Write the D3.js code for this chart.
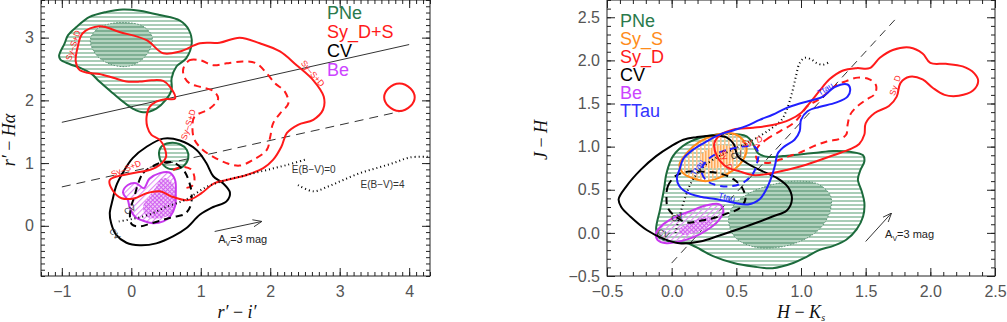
<!DOCTYPE html>
<html>
<head>
<meta charset="utf-8">
<script src="https://cdn.jsdelivr.net/npm/d3@7"></script>
<style>
  body { margin: 0; background: #fff; }
  svg { display: block; font-family: "Liberation Sans", Arial, sans-serif; }
</style>
</head>
<body>
<script>
// ---------- left panel (r'-i' , r'-Halpha) ----------
const leftXTicks = [-1, 0, 1, 2, 3, 4];
const leftYTicks = [0, 1, 2, 3];

const leftPNe = [[-1.04,2.71],[-0.96,2.91],[-0.91,3.04],[-0.79,3.17],[-0.60,3.33],[-0.36,3.41],[-0.12,3.45],[0.12,3.43],[0.41,3.36],[0.70,3.27],[0.83,3.12],[0.87,2.91],[0.79,2.67],[0.65,2.54],[0.58,2.35],[0.58,2.17],[0.50,2.01],[0.36,1.87],[0.17,1.81],[0.02,1.87],[-0.12,1.98],[-0.26,2.11],[-0.46,2.30],[-0.58,2.43],[-0.72,2.51],[-0.89,2.58],[-1.02,2.65]];
const leftPNeCore = [[-0.59,2.96],[-0.50,3.13],[-0.31,3.22],[-0.07,3.24],[0.17,3.18],[0.30,3.01],[0.26,2.80],[0.12,2.62],[-0.07,2.54],[-0.31,2.58],[-0.50,2.72]];
const leftPNeSmall = [[0.40,1.13],[0.43,1.26],[0.55,1.32],[0.70,1.30],[0.80,1.21],[0.82,1.08],[0.75,0.95],[0.60,0.90],[0.47,0.96]];

const leftSy = [[-0.70,3.07],[-0.46,3.18],[-0.17,3.09],[0.22,2.96],[0.46,2.75],[0.70,2.78],[0.99,2.91],[1.27,2.92],[1.56,3.00],[1.85,2.91],[2.14,2.78],[2.38,2.56],[2.62,2.32],[2.77,2.06],[2.76,1.85],[2.62,1.69],[2.40,1.61],[2.24,1.48],[2.16,1.26],[2.04,1.05],[1.90,0.92],[1.66,0.81],[1.37,0.73],[1.18,0.67],[1.01,0.52],[0.82,0.41],[0.60,0.46],[0.41,0.55],[0.22,0.52],[0.05,0.44],[-0.14,0.44],[-0.26,0.55],[-0.31,0.73],[-0.02,0.83],[0.26,0.89],[0.41,0.97],[0.50,1.10],[0.48,1.24],[0.41,1.37],[0.29,1.45],[0.23,1.58],[0.22,1.74],[0.26,1.89],[0.36,1.98],[0.50,2.02],[0.63,2.03],[0.56,2.21],[0.46,2.31],[0.29,2.32],[0.12,2.30],[-0.07,2.30],[-0.26,2.36],[-0.46,2.42],[-0.63,2.44],[-0.75,2.49],[-0.80,2.62],[-0.77,2.86]];
const leftSyBlob = [[3.64,2.05],[3.70,2.19],[3.86,2.27],[4.02,2.19],[4.08,2.05],[4.02,1.91],[3.86,1.83],[3.70,1.91]];
const leftSyDash = [[0.75,2.51],[0.84,2.64],[0.99,2.64],[1.18,2.56],[1.37,2.59],[1.61,2.62],[1.80,2.59],[1.95,2.43],[2.07,2.27],[2.21,2.14],[2.26,1.95],[2.14,1.79],[2.04,1.63],[2.00,1.42],[1.95,1.21],[1.75,1.05],[1.56,0.96],[1.37,1.00],[1.18,1.10],[1.03,1.21],[0.91,1.37],[0.88,1.56],[0.91,1.74],[1.13,1.87],[1.25,2.03],[1.18,2.15],[1.01,2.21],[0.84,2.27],[0.76,2.38]];
const leftSyDashArc = [[0.60,0.89],[0.75,0.94],[0.87,0.89],[0.91,0.73],[0.87,0.63],[0.75,0.60]];

const leftCV = [[-0.31,0.20],[-0.27,0.41],[-0.22,0.63],[-0.11,0.87],[0.02,1.08],[0.22,1.26],[0.46,1.39],[0.70,1.36],[0.94,1.21],[1.08,1.00],[1.18,0.79],[1.32,0.68],[1.42,0.53],[1.37,0.39],[1.18,0.30],[0.99,0.18],[0.79,-0.04],[0.60,-0.17],[0.36,-0.28],[0.12,-0.31],[-0.07,-0.27],[-0.22,-0.14],[-0.29,0.04]];
const leftCVDash = [[0.10,0.68],[0.17,0.84],[0.29,0.94],[0.41,1.00],[0.60,1.01],[0.75,0.89],[0.83,0.71],[0.87,0.49],[0.85,0.31],[0.77,0.19],[0.60,0.14],[0.41,0.08],[0.26,0.03],[0.12,-0.01],[0.01,0.02],[-0.02,0.15],[0.00,0.31],[0.05,0.49]];

const leftBe = [[-0.12,0.53],[-0.05,0.65],[0.07,0.68],[0.18,0.60],[0.26,0.75],[0.41,0.84],[0.55,0.85],[0.63,0.73],[0.64,0.52],[0.63,0.31],[0.56,0.15],[0.46,0.07],[0.31,0.04],[0.17,0.08],[0.05,0.15],[-0.02,0.28],[-0.05,0.41]];
const leftBeCore = [[0.41,0.73],[0.50,0.76],[0.60,0.68],[0.63,0.41],[0.58,0.20],[0.41,0.12],[0.22,0.15],[0.17,0.31],[0.26,0.47],[0.36,0.63]];

const leftEbv0 = [[-0.18,0.07],[0.02,0.11],[0.26,0.18],[0.50,0.30],[0.79,0.42],[1.08,0.62],[1.37,0.73],[1.66,0.81],[1.95,0.89],[2.24,0.97],[2.52,1.06]];
const leftEbv4 = [[2.40,0.65],[2.62,0.55],[2.84,0.63],[3.05,0.73],[3.29,0.84],[3.53,0.92],[3.77,1.00],[4.01,1.09],[4.30,1.10]];
const leftLineSolid = [[-1, 1.65], [4, 2.89]];
const leftLineDash = [[-1, 0.62], [3.9, 1.83]];
const leftAv = [[1.20, -0.09], [1.88, 0.07]];

// ---------- right panel (H-Ks , J-H) ----------
const rightXTicks = [-0.5, 0, 0.5, 1, 1.5, 2, 2.5];
const rightYTicks = [-0.5, 0, 0.5, 1, 1.5, 2, 2.5];

const rightPNe = [[-0.12,0.04],[-0.09,0.27],[-0.06,0.50],[-0.04,0.69],[0.01,0.89],[0.12,1.04],[0.27,1.12],[0.42,1.15],[0.58,1.12],[0.63,1.03],[0.67,0.92],[0.75,0.88],[0.86,0.89],[0.99,0.91],[1.12,0.93],[1.25,0.95],[1.38,0.94],[1.48,0.90],[1.49,0.83],[1.46,0.73],[1.44,0.62],[1.47,0.48],[1.49,0.35],[1.48,0.19],[1.43,0.04],[1.35,-0.08],[1.25,-0.15],[1.14,-0.20],[1.04,-0.28],[0.94,-0.35],[0.78,-0.41],[0.63,-0.39],[0.48,-0.35],[0.32,-0.27],[0.22,-0.19],[0.12,-0.12],[-0.01,-0.10],[-0.10,-0.05]];
const rightPNeCore = [[0.44,0.15],[0.48,0.32],[0.60,0.46],[0.78,0.56],[0.99,0.60],[1.14,0.56],[1.23,0.42],[1.22,0.23],[1.14,0.04],[0.99,-0.10],[0.81,-0.17],[0.63,-0.16],[0.49,-0.05]];

const rightSyD = [[0.33,1.04],[0.38,1.14],[0.48,1.20],[0.63,1.22],[0.78,1.25],[0.91,1.31],[1.00,1.39],[1.07,1.51],[1.14,1.64],[1.22,1.78],[1.32,1.88],[1.43,1.91],[1.53,1.91],[1.61,2.03],[1.71,2.12],[1.84,2.15],[1.94,2.08],[2.00,1.97],[2.12,1.96],[2.25,1.93],[2.34,1.85],[2.37,1.76],[2.33,1.65],[2.22,1.59],[2.11,1.60],[2.02,1.68],[1.94,1.78],[1.84,1.81],[1.77,1.74],[1.74,1.58],[1.68,1.47],[1.57,1.39],[1.50,1.27],[1.49,1.14],[1.45,1.03],[1.38,0.97],[1.25,0.90],[1.04,0.79],[0.89,0.73],[0.73,0.68],[0.63,0.67],[0.53,0.71],[0.42,0.77],[0.35,0.89]];
const rightSyDDash = [[0.66,0.98],[0.73,1.08],[0.84,1.18],[0.94,1.27],[1.00,1.37],[1.05,1.47],[1.13,1.54],[1.21,1.63],[1.27,1.71],[1.35,1.76],[1.44,1.80],[1.53,1.78],[1.58,1.71],[1.57,1.61],[1.50,1.54],[1.43,1.46],[1.38,1.37],[1.36,1.25],[1.35,1.14],[1.30,1.09],[1.20,1.06],[1.09,1.00],[0.99,0.93],[0.91,0.89],[0.84,0.85],[0.73,0.81],[0.66,0.85]];
const rightSyS = [[0.06,0.79],[0.12,0.93],[0.22,1.06],[0.35,1.14],[0.48,1.15],[0.55,1.08],[0.58,0.97],[0.55,0.84],[0.48,0.73],[0.37,0.64],[0.27,0.60],[0.17,0.63],[0.09,0.69]];
const rightSySCore = [[0.22,0.89],[0.30,0.98],[0.40,1.02],[0.48,0.97],[0.48,0.85],[0.40,0.77],[0.30,0.75],[0.23,0.79]];

const rightTTau = [[0.06,0.73],[0.09,0.86],[0.17,0.97],[0.27,1.06],[0.37,1.14],[0.48,1.19],[0.58,1.24],[0.68,1.31],[0.78,1.37],[0.89,1.45],[0.99,1.50],[1.09,1.54],[1.17,1.58],[1.26,1.69],[1.36,1.72],[1.38,1.67],[1.36,1.58],[1.27,1.51],[1.14,1.46],[1.05,1.41],[1.00,1.31],[0.99,1.18],[0.95,1.08],[0.87,1.00],[0.82,0.92],[0.80,0.79],[0.77,0.64],[0.73,0.50],[0.68,0.39],[0.59,0.33],[0.48,0.35],[0.35,0.39],[0.22,0.42],[0.13,0.46],[0.06,0.54],[0.04,0.64]];
const rightTTauDash = [[0.35,0.92],[0.45,0.97],[0.55,1.00],[0.64,1.00],[0.67,0.93],[0.66,0.81],[0.63,0.69],[0.55,0.58],[0.45,0.54],[0.33,0.56],[0.26,0.62],[0.23,0.73],[0.28,0.85]];

const rightCV = [[-0.41,0.39],[-0.35,0.54],[-0.24,0.73],[-0.12,0.89],[-0.01,1.00],[0.09,1.08],[0.19,1.11],[0.32,1.13],[0.42,1.11],[0.48,1.03],[0.51,0.89],[0.58,0.81],[0.68,0.73],[0.81,0.64],[0.90,0.53],[0.93,0.39],[0.89,0.26],[0.78,0.19],[0.66,0.12],[0.53,0.05],[0.37,-0.03],[0.22,-0.10],[0.06,-0.12],[-0.06,-0.07],[-0.19,0.03],[-0.32,0.19],[-0.39,0.30]];
const rightCVDash = [[-0.04,0.42],[-0.03,0.54],[0.03,0.66],[0.12,0.71],[0.24,0.71],[0.37,0.69],[0.48,0.62],[0.55,0.51],[0.57,0.39],[0.53,0.29],[0.42,0.22],[0.32,0.17],[0.22,0.14],[0.12,0.12],[0.03,0.19],[-0.03,0.29]];

const rightBe = [[-0.12,0.00],[-0.08,0.08],[0.01,0.17],[0.14,0.25],[0.27,0.32],[0.37,0.33],[0.40,0.25],[0.36,0.14],[0.27,0.03],[0.17,-0.05],[0.06,-0.10],[-0.04,-0.12],[-0.11,-0.08]];
const rightBeCore = [[0.06,0.04],[0.17,0.14],[0.27,0.19],[0.32,0.15],[0.27,0.06],[0.17,0.00],[0.08,-0.02]];

const rightDotted = [[0.03,0.00],[0.06,0.19],[0.10,0.39],[0.15,0.58],[0.22,0.73],[0.32,0.85],[0.48,0.97],[0.63,1.08],[0.76,1.20],[0.85,1.31],[0.89,1.43],[0.93,1.62],[0.96,1.81],[0.99,1.97],[1.03,2.03],[1.08,2.01],[1.12,1.97],[1.17,1.95],[1.23,1.99]];
const rightLineDash = [[0.0, -0.35], [1.75, 2.51]];
const rightAv = [[1.50, -0.10], [1.70, 0.23]];

// ---------- setup ----------
const W = 1007, H = 322;
const svg = d3.select('body').append('svg').attr('width', W).attr('height', H);
const defs = svg.append('defs');

function stripes(id, w, h, bg, rects, rot) {
  const p = defs.append('pattern').attr('id', id).attr('patternUnits', 'userSpaceOnUse')
    .attr('width', w).attr('height', h);
  if (rot) p.attr('patternTransform', `rotate(${rot})`);
  if (bg) p.append('rect').attr('width', w).attr('height', h).attr('fill', bg);
  rects.forEach(r => p.append('rect').attr('x', r[0]).attr('y', r[1]).attr('width', r[2]).attr('height', r[3]).attr('fill', r[4]));
}
stripes('pneH', 6, 4, null, [[0, 0, 6, 2, '#a9cdb7']]);
stripes('pneCore', 6, 4, '#7eaf93', [[0, 0, 6, 2, '#b3d3bf']]);
stripes('beH', 4, 4, null, [[0, 0, 1.1, 4, '#e08af4']], 45);
stripes('beCore', 3, 3, '#f0c8f8', [[0, 0, 1, 3, '#d060f0'], [0, 0, 3, 1, '#d060f0']], 45);
stripes('syS', 4, 6, null, [[0, 0, 1.6, 6, '#ffc48c']]);
stripes('sySCore', 3, 6, '#ffe0c0', [[0, 0, 1.5, 6, '#ffad5c']]);

const mk = defs.append('marker').attr('id', 'arr').attr('viewBox', '0 0 10 10')
  .attr('refX', 10).attr('refY', 5).attr('markerWidth', 9).attr('markerHeight', 9)
  .attr('orient', 'auto').attr('markerUnits', 'userSpaceOnUse');
mk.append('path').attr('d', 'M0,1 L10,5 L0,9').attr('fill', 'none').attr('stroke', '#333').attr('stroke-width', 1);

const GREEN = '#1c6b3c', RED = '#ff1a1a', BLACK = '#000', MAG = '#c838ee', ORANGE = '#ff8c1a', BLUE = '#2020ff';

function makePanel(id, box, xDom, yDom) {
  const x = d3.scaleLinear().domain(xDom).range([box.l, box.r]);
  const y = d3.scaleLinear().domain(yDom).range([box.b, box.t]);
  defs.append('clipPath').attr('id', id).append('rect')
    .attr('x', box.l).attr('y', box.t).attr('width', box.r - box.l).attr('height', box.b - box.t);
  const g = svg.append('g').attr('clip-path', `url(#${id})`);
  const closed = d3.line().x(d => x(d[0])).y(d => y(d[1])).curve(d3.curveCatmullRomClosed.alpha(0.5));
  const open = d3.line().x(d => x(d[0])).y(d => y(d[1])).curve(d3.curveCatmullRom.alpha(0.5));
  const straight = d3.line().x(d => x(d[0])).y(d => y(d[1]));
  const draw = (pts, gen, fill, stroke, sw, dash) => g.append('path').datum(pts).attr('d', gen)
    .attr('fill', fill || 'none').attr('stroke', stroke || 'none').attr('stroke-width', sw || 0)
    .attr('stroke-dasharray', dash || null).attr('stroke-linejoin', 'round');
  return { x, y, g, closed, open, straight, draw, box };
}

function frame(P, xMaj, yMaj, xFmt, yFmt) {
  const { x, y, box } = P;
  const minor = (d) => d3.range(Math.ceil(d[0] * 10 - 1e-6), Math.floor(d[1] * 10 + 1e-6) + 1).map(v => v / 10);
  const xMin = minor(x.domain()), yMin = minor(y.domain());
  const ax = svg.append('g').attr('class', 'axes');
  const style = s => {
    s.select('.domain').remove();
    s.selectAll('line').attr('stroke', '#222');
    s.selectAll('text').attr('font-size', 16).attr('fill', '#555').attr('font-family', '"Liberation Sans", Arial, sans-serif');
  };
  ax.append('g').attr('transform', `translate(0,${box.b})`)
    .call(d3.axisBottom(x).tickValues(xMaj).tickSize(-8).tickPadding(10).tickFormat(xFmt)).call(style);
  ax.append('g').attr('transform', `translate(0,${box.b})`)
    .call(d3.axisBottom(x).tickValues(xMin).tickSize(-4).tickFormat('')).call(style);
  ax.append('g').attr('transform', `translate(0,${box.t})`)
    .call(d3.axisTop(x).tickValues(xMaj).tickSize(-8).tickFormat('')).call(style);
  ax.append('g').attr('transform', `translate(0,${box.t})`)
    .call(d3.axisTop(x).tickValues(xMin).tickSize(-4).tickFormat('')).call(style);
  ax.append('g').attr('transform', `translate(${box.l},0)`)
    .call(d3.axisLeft(y).tickValues(yMaj).tickSize(-8).tickPadding(7).tickFormat(yFmt)).call(style);
  ax.append('g').attr('transform', `translate(${box.l},0)`)
    .call(d3.axisLeft(y).tickValues(yMin).tickSize(-4).tickFormat('')).call(style);
  ax.append('g').attr('transform', `translate(${box.r},0)`)
    .call(d3.axisRight(y).tickValues(yMaj).tickSize(-8).tickFormat('')).call(style);
  ax.append('g').attr('transform', `translate(${box.r},0)`)
    .call(d3.axisRight(y).tickValues(yMin).tickSize(-4).tickFormat('')).call(style);
  ax.append('rect').attr('x', box.l).attr('y', box.t).attr('width', box.r - box.l).attr('height', box.b - box.t)
    .attr('fill', 'none').attr('stroke', '#222').attr('stroke-width', 1);
}

function tag(P, text, xv, yv, ang, color, size) {
  P.g.append('text').attr('transform', `translate(${P.x(xv)},${P.y(yv)}) rotate(${ang})`)
    .attr('text-anchor', 'middle').attr('font-size', size || 8.5).attr('fill', color).text(text);
}

function avLabel(P, xv, yv) {
  const t = P.g.append('text').attr('x', P.x(xv)).attr('y', P.y(yv)).attr('font-size', 11).attr('fill', '#222');
  t.append('tspan').text('A');
  t.append('tspan').attr('font-size', 7).attr('dy', 3).text('V');
  t.append('tspan').attr('dy', -3).text('=3  mag');
}

function legend(items, x0, y0, step) {
  items.forEach((it, i) => svg.append('text').attr('x', x0).attr('y', y0 + i * step)
    .attr('font-size', 18).attr('fill', it[1]).text(it[0]));
}

// ---------- LEFT PANEL ----------
const L = makePanel('clipL', { l: 41, r: 430, t: 0, b: 276 }, [-1.3, 4.3], [-0.8, 3.6]);
L.draw(leftPNe, L.closed, 'url(#pneH)');
L.draw(leftPNeCore, L.closed, 'url(#pneCore)', '#5e9478', 1, '1.5,1.5');
L.draw(leftPNeSmall, L.closed, 'url(#pneH)');
L.draw(leftPNe, L.closed, null, GREEN, 2);
L.draw(leftPNeSmall, L.closed, null, GREEN, 2);
L.draw(leftLineSolid, L.straight, null, '#333', 1);
L.draw(leftLineDash, L.straight, null, '#333', 1, '9,6');
L.draw(leftSyDash, L.closed, null, RED, 2, '7,5');
L.draw(leftSyDashArc, L.open, null, RED, 2, '7,5');
L.draw(leftBe, L.closed, 'url(#beH)');
L.draw(leftBeCore, L.closed, 'url(#beCore)');
L.draw(leftBe, L.closed, null, MAG, 2);
L.draw(leftCV, L.closed, null, BLACK, 2);
L.draw(leftCVDash, L.closed, null, BLACK, 2, '7,5');
L.draw(leftSy, L.closed, null, RED, 2);
L.draw(leftSyBlob, L.closed, null, RED, 2);
L.draw(leftEbv0, L.open, null, BLACK, 2, '1,3');
L.draw(leftEbv4, L.open, null, BLACK, 2, '1,3');
L.draw(leftAv, L.straight, null, '#333', 1).attr('marker-end', 'url(#arr)');
avLabel(L, 1.25, -0.27);
L.g.append('text').attr('x', L.x(2.31)).attr('y', L.y(0.84)).attr('font-size', 10).attr('fill', '#333').text('E(B\u2212V)=0');
L.g.append('text').attr('x', L.x(3.30)).attr('y', L.y(0.60)).attr('font-size', 10).attr('fill', '#333').text('E(B\u2212V)=4');
tag(L, 'Sy\u2013S+D', -0.80, 2.86, -72, RED);
tag(L, 'Sy\u2013S+D', 2.58, 2.40, 50, RED);
tag(L, 'Sy\u2013S+D', 0.86, 1.60, -72, RED);
tag(L, 'Sy\u2013S+D', -0.06, 0.87, -22, RED);
tag(L, 'CV', -0.27, -0.16, 50, '#333');
tag(L, 'CV', 0.0, 0.22, -30, '#333');
frame(L, leftXTicks, leftYTicks, d3.format('d'), d3.format('d'));
legend([['PNe', '#2a7a4c'], ['Sy_D+S', RED], ['CV', BLACK], ['Be', '#cc44ff']], 327, 19, 19);

// ---------- RIGHT PANEL ----------
const R = makePanel('clipR', { l: 607, r: 995, t: 0, b: 276 }, [-0.5, 2.5], [-0.5, 2.7]);
R.draw(rightPNe, R.closed, 'url(#pneH)');
R.draw(rightPNeCore, R.closed, 'url(#pneCore)', '#5e9478', 1, '1.5,1.5');
R.draw(rightPNe, R.closed, null, GREEN, 2);
R.draw(rightLineDash, R.straight, null, '#333', 1, '8,6');
R.draw(rightBe, R.closed, 'url(#beH)');
R.draw(rightBeCore, R.closed, 'url(#beCore)');
R.draw(rightBe, R.closed, null, MAG, 2);
R.draw(rightSyS, R.closed, 'url(#syS)');
R.draw(rightSySCore, R.closed, 'url(#sySCore)');
R.draw(rightSyS, R.closed, null, ORANGE, 2);
R.draw(rightCV, R.closed, null, BLACK, 2);
R.draw(rightCVDash, R.closed, null, BLACK, 2, '7,5');
R.draw(rightDotted, R.open, null, BLACK, 2, '1,3');
R.draw(rightSyD, R.closed, null, RED, 2);
R.draw(rightSyDDash, R.closed, null, RED, 2, '7,5');
R.draw(rightTTau, R.closed, null, BLUE, 2);
R.draw(rightTTauDash, R.closed, null, BLUE, 2, '7,5');
R.draw(rightAv, R.straight, null, '#333', 1).attr('marker-end', 'url(#arr)');
avLabel(R, 1.65, -0.06);
tag(R, 'Ttau', 1.20, 1.64, -32, BLUE);
tag(R, 'Ttau', 0.42, 0.38, 15, BLUE);
tag(R, 'Ttau', 0.22, 0.74, -60, BLUE);
tag(R, 'Sy_D', 1.75, 1.70, -72, RED);
tag(R, 'Sy_D', 0.63, 1.03, -15, RED);
tag(R, 'Sy_D', 0.40, 0.83, 65, RED);
tag(R, 'CV', 0.51, 0.87, -20, '#333');
tag(R, 'CV', 0.05, 0.15, -20, '#333');
tag(R, 'CV', -0.07, -0.04, 20, '#333');
frame(R, rightXTicks, rightYTicks, d3.format('.1f'), d3.format('.1f'));
legend([['PNe', '#2a7a4c'], ['Sy_S', ORANGE], ['Sy_D', RED], ['CV', BLACK], ['Be', '#cc44ff'], ['TTau', '#3333ff']], 620, 27, 18);

// ---------- axis titles ----------
function title(x0, y0, rot, parts) {
  const t = svg.append('text').attr('transform', `translate(${x0},${y0}) rotate(${rot})`)
    .attr('text-anchor', 'middle').attr('font-family', '"Liberation Serif", "DejaVu Serif", serif')
    .attr('font-size', 18).attr('fill', '#111');
  parts.forEach(p => {
    const s = t.append('tspan').text(p[0]).attr('font-style', p[1] ? 'italic' : 'normal');
    if (p[2]) s.attr('font-size', 10).attr('dy', 3);
  });
}
title(237, 318, 0, [["r\u2032", 1], [" \u2212 ", 0], ["i\u2032", 1]]);
title(15, 140, -90, [["r\u2032", 1], [" \u2212 ", 0], ["H\u03b1", 1]]);
title(801, 318, 0, [["H", 1], [" \u2212 ", 0], ["K", 1], ["s", 1, 1]]);
title(547, 140, -90, [["J", 1], [" \u2212 ", 0], ["H", 1]]);
</script>
</body>
</html>
